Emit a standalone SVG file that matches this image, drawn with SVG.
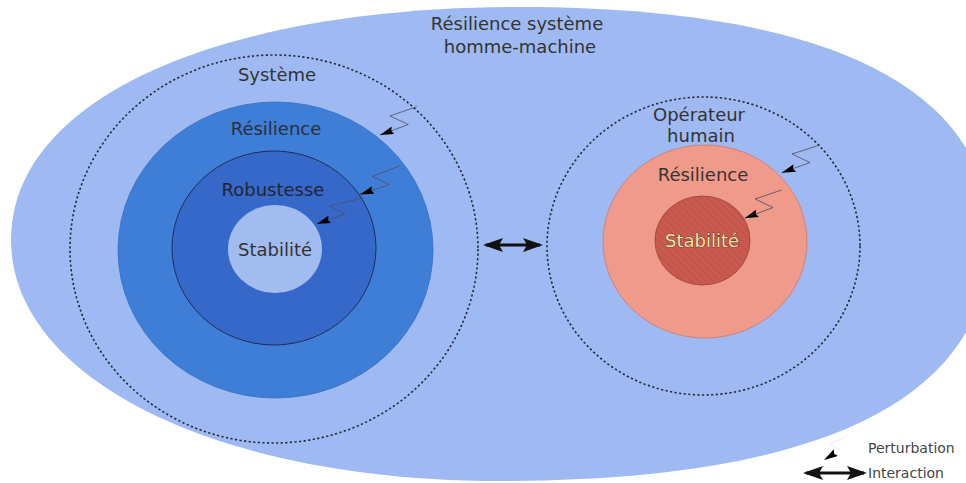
<svg xmlns="http://www.w3.org/2000/svg" width="966" height="483" viewBox="0 0 966 483">
  <style>
    .lbl { font-family: "DejaVu Sans", "Liberation Sans", sans-serif; font-size: 18px; fill: #333333; text-anchor: middle; }
    .leg { font-family: "DejaVu Sans", "Liberation Sans", sans-serif; font-size: 14px; fill: #444444; }
    .dash { fill: none; stroke: #222a3a; stroke-width: 1.6; stroke-dasharray: 2.2 2.4; }
    .pert { fill: none; stroke: #4a5060; stroke-width: 0.8; marker-end: url(#tri); }
    .inter { fill: none; stroke: #111111; stroke-width: 3; marker-start: url(#big); marker-end: url(#big); }
  </style>
  <defs>
    <marker id="tri" viewBox="0 0 14 8" refX="14" refY="4" markerWidth="14" markerHeight="8" markerUnits="userSpaceOnUse" orient="auto">
      <path d="M0,0 L14,4 L0,8 L2,4 Z" fill="#000000"/>
    </marker>
    <marker id="big" viewBox="0 0 20 14" refX="17" refY="7" markerWidth="20" markerHeight="14" markerUnits="userSpaceOnUse" orient="auto-start-reverse">
      <path d="M0,0 L20,7 L0,14 L4,7 Z" fill="#111111"/>
    </marker>
    <pattern id="hatch" patternUnits="userSpaceOnUse" width="5" height="5" patternTransform="rotate(-45)">
      <line x1="0" y1="0" x2="0" y2="5" stroke="#a8443c" stroke-width="1.2" stroke-opacity="0.55"/>
    </pattern>
  </defs>

  <rect x="0" y="0" width="966" height="483" fill="#ffffff"/>

  <g id="resilience-homme-machine">
    <path d="M11,240 C11,100 215,7 520,7 C800,7 990,75 990,238 C990,400 820,481 500,481 C215,481 11,378 11,240 Z" fill="#9fbaf2"/>
    <text class="lbl" x="517" y="30">Résilience système</text>
    <text class="lbl" x="520" y="53">homme-machine</text>
  </g>

  <g id="systeme">
    <ellipse cx="274" cy="249" rx="204" ry="194" class="dash"/>
    <text class="lbl" x="277" y="81">Système</text>
  </g>

  <g id="resilience-systeme">
    <ellipse cx="275.5" cy="250" rx="157.5" ry="148" fill="#3e7ed6" stroke="#3470c4" stroke-width="0.8"/>
    <text class="lbl" x="276" y="135" style="fill:#2a2f3a">Résilience</text>
  </g>

  <g id="robustesse">
    <ellipse cx="274" cy="248" rx="102" ry="97" fill="#3668c9" stroke="#1e2f55" stroke-width="1"/>
    <text class="lbl" x="273" y="196" style="fill:#222632">Robustesse</text>
  </g>

  <g id="stabilite-systeme">
    <ellipse cx="275" cy="249" rx="47" ry="44" fill="#a3bcf0"/>
    <text class="lbl" x="275" y="256">Stabilité</text>
  </g>

  <g id="operateur-humain">
    <ellipse cx="703.5" cy="246" rx="156.5" ry="149" class="dash"/>
    <text class="lbl" x="699" y="121">Opérateur</text>
    <text class="lbl" x="701" y="142">humain</text>
  </g>

  <g id="resilience-operateur">
    <ellipse cx="705" cy="241.5" rx="102" ry="96.5" fill="#ef9a8b" stroke="#c97a6c" stroke-width="0.8"/>
    <text class="lbl" x="703" y="181" style="fill:#3a3330">Résilience</text>
  </g>

  <g id="stabilite-operateur">
    <ellipse cx="702.5" cy="240.5" rx="47.5" ry="44.5" fill="#c85a4f" stroke="#9c3e35" stroke-width="0.8"/>
    <ellipse cx="702.5" cy="240.5" rx="47.5" ry="44.5" fill="url(#hatch)"/>
    <text class="lbl" x="702" y="247" style="fill:#f2e2a6;stroke:#3a2418;stroke-width:0.7;paint-order:stroke">Stabilité</text>
  </g>

  <g id="connectors">
    <line class="inter" x1="486" y1="245" x2="540" y2="245"/>
    <polyline class="pert" points="416.7,106.7 390,116 408.3,124.5 380,135"/>
    <polyline class="pert" points="399.3,166 372,176.5 389.3,184.5 360,194.5"/>
    <polyline class="pert" points="363,198 329.3,206 345,214 316.7,224"/>
    <polyline class="pert" points="820,145 792,154 810,162.5 781.7,172.7"/>
    <polyline class="pert" points="781.7,190 755,199 773,207.5 744.5,218.3"/>
  </g>

  <g id="legend">
    <polyline points="846,437 830,444 840,450 824,460" fill="none" stroke="#e6e6e6" stroke-width="0.8" marker-end="url(#tri)"/>
    <text class="leg" x="868" y="453">Perturbation</text>
    <line class="inter" x1="806" y1="473" x2="864" y2="473"/>
    <text class="leg" x="868" y="478">Interaction</text>
  </g>
</svg>
